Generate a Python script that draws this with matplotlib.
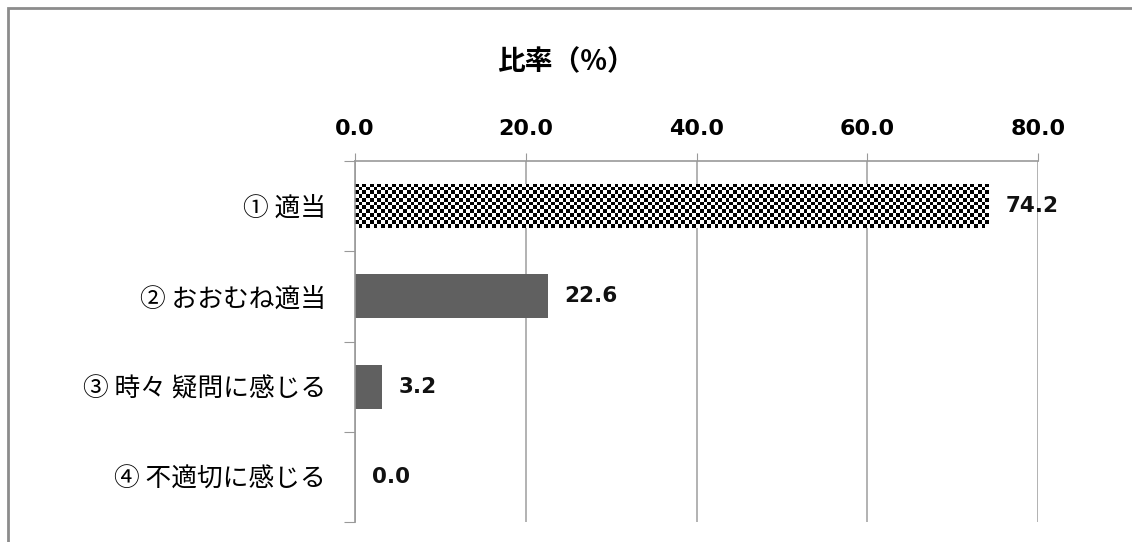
import numpy as np
import matplotlib
matplotlib.use("Agg")
import matplotlib.pyplot as plt
import matplotlib.patches as mpatches

plt.rcParams['font.family'] = ['Noto Sans CJK JP', 'DejaVu Sans']

categories = ["① 適当", "② おおむね適当", "③ 時々 疑問に感じる", "④ 不適切に感じる"]
values = [74.2, 22.6, 3.2, 0.0]
xticks = [0, 20, 40, 60, 80]
title = "比率（%）"

W, H = 1132, 542
fig = plt.figure(figsize=(W / 100, H / 100), dpi=100)
ax = fig.add_axes([355 / W, 1 - 522 / H, (1038 - 355) / W, (522 - 161) / H])

n = len(categories)
ypos = np.arange(n)
bar_h = 0.49
bars = ax.barh(ypos, values, height=bar_h, color="#606060", zorder=2)

# checkerboard texture on the first bar
b0 = bars[0]
px_per_unit = (1038 - 355) / 80
bw_px = values[0] * px_per_unit
bh_px = bar_h * (522 - 161) / n
cell = 3.7
nc, nr = max(1, int(round(bw_px / cell))), max(1, int(round(bh_px / cell)))
checker = (np.add.outer(np.arange(nr), np.arange(nc)) % 2).astype(float)
b0.set_facecolor("white")
im = ax.imshow(checker, cmap="gray", interpolation="nearest", aspect="auto",
               extent=[0, values[0], ypos[0] + bar_h / 2, ypos[0] - bar_h / 2],
               zorder=2.5)
im.set_clip_path(b0)

for y, v in zip(ypos, values):
    ax.annotate(f"{v:.1f}", (v, y), xytext=(12, 0), textcoords="offset points",
                ha="left", va="center", fontsize=15.5, fontweight="bold",
                family="DejaVu Sans", color="#111111", zorder=1)

ax.set_xlim(0, 80)
ax.set_ylim(n - 0.5, -0.5)
ax.xaxis.tick_top()
ax.set_xticks(xticks)
ax.set_xticklabels([f"{t:.1f}" for t in xticks], fontsize=16, fontweight="bold",
                   family="DejaVu Sans")
ax.tick_params(axis="x", direction="out", length=6, color="#999999", pad=10)

ax.set_yticks(np.arange(n + 1) - 0.5)
ax.set_yticklabels([])
ax.set_yticks(ypos, minor=True)
ax.set_yticklabels(categories, minor=True, fontsize=18.5)
ax.tick_params(axis="y", which="major", length=8, color="#999999")
ax.tick_params(axis="y", which="minor", length=0, pad=21)

ax.grid(axis="x", color="#a6a6a6", linewidth=1.2, zorder=1)
ax.set_axisbelow(True)
for s in ["right", "bottom"]:
    ax.spines[s].set_visible(False)
for s in ["top", "left"]:
    ax.spines[s].set_color("#999999")
    ax.spines[s].set_linewidth(1.2)

fig.text(566 / W, 1 - 62 / H, title, ha="center", va="center",
         fontsize=20, fontweight="bold")

# outer chart border
border = mpatches.Rectangle((8 / W, -0.05), 1.1, 1 - 8 / H + 0.05,
                            transform=fig.transFigure, fill=False,
                            edgecolor="#8c8c8c", linewidth=2, clip_on=False)
fig.patches.append(border)

fig.savefig("out.png", dpi=100)
